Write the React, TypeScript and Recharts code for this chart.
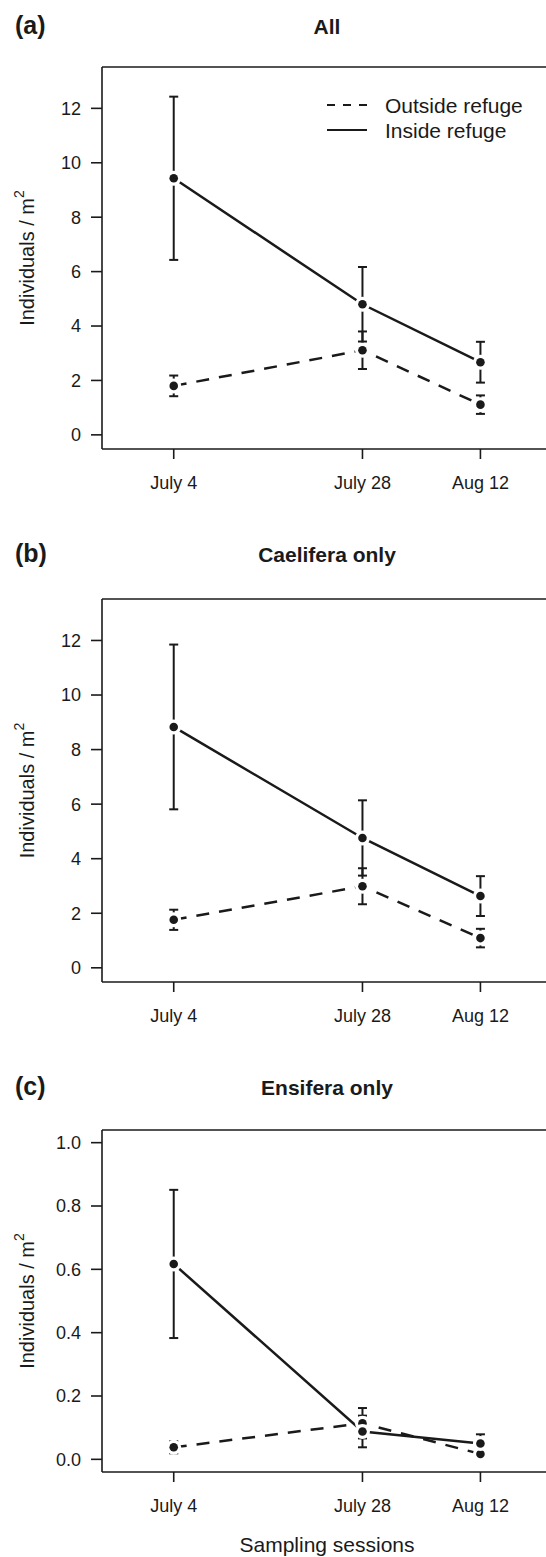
import { ComposedChart, Line, XAxis, YAxis, ErrorBar, ReferenceLine, Legend, Label } from 'recharts';

const INK = '#1a1a1a';
const FONT = '"Liberation Sans", Arial, Helvetica, sans-serif';

// sampling sessions, placed on a day axis (days after July 4)
const sessionLabels = ['July 4', 'July 28', 'Aug 12'];
const sessionDays = [0, 24, 39];

const seriesNames = ['Outside refuge', 'Inside refuge'];

// (a) all individuals per m2, mean and SE
const allOutside = [1.8, 3.11, 1.11];
const allOutsideSe = [0.38, 0.69, 0.34];
const allInside = [9.43, 4.8, 2.67];
const allInsideSe = [3.0, 1.37, 0.75];

// (b) Caelifera only
const caeOutside = [1.76, 2.99, 1.09];
const caeOutsideSe = [0.37, 0.66, 0.34];
const caeInside = [8.83, 4.76, 2.63];
const caeInsideSe = [3.02, 1.38, 0.73];

// (c) Ensifera only
const ensOutside = [0.038, 0.114, 0.017];
const ensOutsideSe = [0.019, 0.048, 0.012];
const ensInside = [0.617, 0.088, 0.05];
const ensInsideSe = [0.234, 0.05, 0.029];

const countTicks = [0, 2, 4, 6, 8, 10, 12];
const ensiferaTicks = [0, 0.2, 0.4, 0.6, 0.8, 1.0];

const xDomain: [number, number] = [-9.12, 48.1];
const countDomain: [number, number] = [-0.52, 13.52];
const ensiferaDomain: [number, number] = [-0.04, 1.04];

const DASH = '13 10';

const makeRows = (outside: number[], outsideSe: number[], inside: number[], insideSe: number[]) =>
  sessionDays.map((day, i) => ({
    day,
    outside: outside[i],
    outsideSe: outsideSe[i],
    inside: inside[i],
    insideSe: insideSe[i],
  }));

// filled point with a white halo, so lines and bars stop short of it
const renderDot = (props: any) => {
  const { cx, cy, index } = props;
  if (cx == null || cy == null) return <g key={`dot-${index}`} />;
  return (
    <g key={`dot-${index}`}>
      <circle cx={cx} cy={cy} r={7.5} fill="#fff" />
      <circle cx={cx} cy={cy} r={4.3} fill={INK} />
    </g>
  );
};

const renderLegend = (props: any) => {
  const entries = [...(props.payload || [])].sort(
    (a: any, b: any) => seriesNames.indexOf(a.value) - seriesNames.indexOf(b.value)
  );
  return (
    <svg width={220} height={60} style={{ display: 'block', overflow: 'visible' }}>
      {entries.map((entry: any, i: number) => (
        <g key={entry.value}>
          <line
            x1={7}
            x2={47}
            y1={15 + i * 25}
            y2={15 + i * 25}
            stroke={INK}
            strokeWidth={2}
            strokeDasharray={entry.value === seriesNames[0] ? '8 8' : undefined}
          />
          <text x={65} y={22.5 + i * 25} fontSize={21} fill={INK} fontFamily={FONT}>
            {entry.value}
          </text>
        </g>
      ))}
    </svg>
  );
};

const renderYLabel = (props: any) => {
  const { viewBox } = props;
  const cy = viewBox.y + viewBox.height / 2;
  return (
    <text
      x={27}
      y={cy}
      transform={`rotate(-90, 27, ${cy})`}
      textAnchor="middle"
      dominantBaseline="central"
      fontSize={20}
      fill={INK}
      fontFamily={FONT}
    >
      Individuals / m
      <tspan dy={-8} fontSize={14}>
        2
      </tspan>
    </text>
  );
};

const renderXTitle = (props: any) => {
  const { viewBox } = props;
  return (
    <text
      x={viewBox.x + viewBox.width / 2}
      y={viewBox.y + 80}
      textAnchor="middle"
      fontSize={21}
      fill={INK}
      fontFamily={FONT}
    >
      Sampling sessions
    </text>
  );
};

interface PanelProps {
  rows: any[];
  yDomain: [number, number];
  yTicks: number[];
  yFormat: (v: number) => string;
  top: number;
  marginTop: number;
  plotHeight: number;
  xAxisHeight: number;
  legend?: boolean;
  xTitle?: boolean;
}

const Panel = ({ rows, yDomain, yTicks, yFormat, top, marginTop, plotHeight, xAxisHeight, legend, xTitle }: PanelProps) => (
  <div style={{ position: 'absolute', left: 0, top }}>
    <ComposedChart
      width={552}
      height={marginTop + plotHeight + xAxisHeight}
      data={rows}
      margin={{ top: marginTop, right: 0, bottom: 0, left: 0 }}
    >
      <XAxis
        dataKey="day"
        type="number"
        domain={xDomain}
        allowDataOverflow
        ticks={sessionDays}
        interval={0}
        tickFormatter={(d: number) => sessionLabels[sessionDays.indexOf(d)]}
        tickSize={10}
        tickMargin={17}
        height={xAxisHeight}
        axisLine={{ stroke: INK, strokeWidth: 1.6 }}
        tickLine={{ stroke: INK, strokeWidth: 1.6 }}
        tick={{ fill: INK, fontSize: 18, fontFamily: FONT }}
      >
        {xTitle && <Label content={renderXTitle} />}
      </XAxis>
      <YAxis
        type="number"
        domain={yDomain}
        allowDataOverflow
        ticks={yTicks}
        interval={0}
        tickFormatter={yFormat}
        width={102}
        tickSize={11}
        tickMargin={10}
        axisLine={{ stroke: INK, strokeWidth: 1.6 }}
        tickLine={{ stroke: INK, strokeWidth: 1.6 }}
        tick={{ fill: INK, fontSize: 18, fontFamily: FONT }}
      >
        <Label content={renderYLabel} />
      </YAxis>
      <ReferenceLine y={yDomain[1]} stroke={INK} strokeWidth={1.6} />
      {legend && (
        <Legend
          layout="vertical"
          align="center"
          verticalAlign="middle"
          content={renderLegend}
          wrapperStyle={{ left: 320, top: 90, width: 220, height: 60 }}
        />
      )}
      <Line
        name={seriesNames[0]}
        type="linear"
        dataKey="outside"
        stroke={INK}
        strokeWidth={2.5}
        strokeDasharray={DASH}
        dot={renderDot}
        activeDot={false}
        legendType="line"
        isAnimationActive={false}
      >
        <ErrorBar dataKey="outsideSe" direction="y" width={4.5} stroke={INK} strokeWidth={2} />
      </Line>
      <Line
        name={seriesNames[1]}
        type="linear"
        dataKey="inside"
        stroke={INK}
        strokeWidth={2.5}
        dot={renderDot}
        activeDot={false}
        legendType="line"
        isAnimationActive={false}
      >
        <ErrorBar dataKey="insideSe" direction="y" width={4.5} stroke={INK} strokeWidth={2} />
      </Line>
    </ComposedChart>
  </div>
);

const headings = [
  { tag: '(a)', title: 'All', baseline: 34 },
  { tag: '(b)', title: 'Caelifera only', baseline: 562 },
  { tag: '(c)', title: 'Ensifera only', baseline: 1095 },
];

export default function App() {
  const countFormat = (v: number) => String(v);
  const ensFormat = (v: number) => v.toFixed(1);
  return (
    <div
      style={{
        position: 'absolute',
        left: 0,
        top: 0,
        width: 546,
        height: 1557,
        overflow: 'hidden',
        background: '#fff',
        fontFamily: FONT,
      }}
    >
      <svg width={546} height={1557} style={{ position: 'absolute', left: 0, top: 0 }}>
        {headings.map((h) => (
          <g key={h.tag}>
            <text x={15} y={h.baseline} fontSize={25} fontWeight="bold" fill={INK} fontFamily={FONT}>
              {h.tag}
            </text>
            <text x={327} y={h.baseline} fontSize={21} fontWeight="bold" fill={INK} fontFamily={FONT} textAnchor="middle">
              {h.title}
            </text>
          </g>
        ))}
      </svg>
      <Panel
        rows={makeRows(allOutside, allOutsideSe, allInside, allInsideSe)}
        yDomain={countDomain}
        yTicks={countTicks}
        yFormat={countFormat}
        top={0}
        marginTop={67}
        plotHeight={382}
        xAxisHeight={60}
        legend
      />
      <Panel
        rows={makeRows(caeOutside, caeOutsideSe, caeInside, caeInsideSe)}
        yDomain={countDomain}
        yTicks={countTicks}
        yFormat={countFormat}
        top={540}
        marginTop={59}
        plotHeight={383}
        xAxisHeight={60}
      />
      <Panel
        rows={makeRows(ensOutside, ensOutsideSe, ensInside, ensInsideSe)}
        yDomain={ensiferaDomain}
        yTicks={ensiferaTicks}
        yFormat={ensFormat}
        top={1070}
        marginTop={60}
        plotHeight={342}
        xAxisHeight={86}
        xTitle
      />
    </div>
  );
}
